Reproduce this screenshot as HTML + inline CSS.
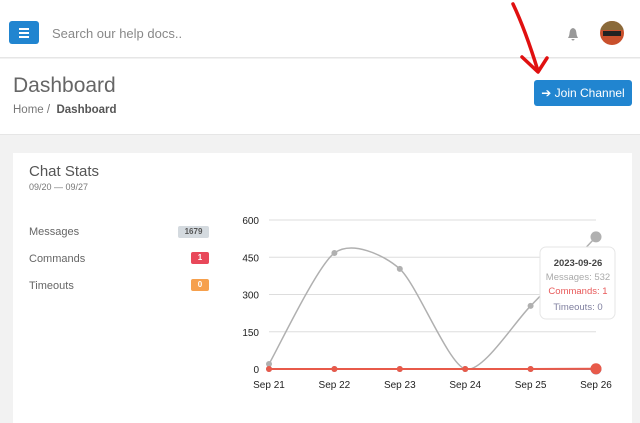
<!DOCTYPE html>
<html><head><meta charset="utf-8"><style>
*{box-sizing:border-box;margin:0;padding:0}
body{width:640px;height:413px;overflow:hidden;background:#f2f2f2;font-family:"Liberation Sans",sans-serif;position:relative}
.top{position:absolute;left:0;top:0;width:640px;height:58px;background:#fff;border-bottom:1px solid #e6e6e6}
.menu{position:absolute;left:9px;top:21px;width:30px;height:23px;background:#2185d0;border-radius:3px}
.menu i{position:absolute;left:10px;width:10px;height:2px;background:#fff}
.search{position:absolute;left:52px;top:26px;font-size:13px;color:#888}
.hdr{position:absolute;left:0;top:59px;width:640px;height:76px;background:#fff;border-bottom:1px solid #e6e6e6}
.title{position:absolute;left:13px;top:74px;font-size:21px;color:#666;font-weight:300}
.crumb{position:absolute;left:13px;top:104px;font-size:11.5px;color:#777}
.crumb b{color:#555}
.join{position:absolute;left:534px;top:80px;width:98px;height:26px;background:#2185d0;border-radius:3px;color:#fff;font-size:12px;line-height:26px;text-align:center}
.card{position:absolute;left:13px;top:153px;width:619px;height:270px;background:#fff}
.ct{position:absolute;left:29px;top:163px;font-size:15px;color:#555}
.cd{position:absolute;left:29px;top:182px;font-size:9px;color:#777}
.row{position:absolute;left:29px;font-size:11px;color:#666}
.badge{position:absolute;height:12px;font-size:8px;line-height:12px;text-align:center;border-radius:2px;font-weight:bold}
</style></head><body>
<div class="top"></div>
<div class="menu"><i style="top:7px"></i><i style="top:11px"></i><i style="top:15px"></i></div>
<div class="search">Search our help docs..</div>
<svg style="position:absolute;left:567px;top:27px" width="12" height="14"><path d="M6 1 C2 2 3 6 2 9 L1 11 H11 L10 9 C9 6 10 2 6 1Z M4.5 12 H7.5 A1.5 1.5 0 0 1 4.5 12Z" fill="#999"/></svg>
<div style="position:absolute;left:600px;top:21px;width:24px;height:24px;border-radius:50%;background:#c9502c;overflow:hidden"><div style="position:absolute;left:0;top:0;width:24px;height:9px;background:#8a6a3a"></div><div style="position:absolute;left:3px;top:10px;width:18px;height:5px;background:#222"></div></div>
<div class="hdr"></div>
<div class="title">Dashboard</div>
<div class="crumb">Home / &nbsp;<b>Dashboard</b></div>
<div class="join">➔ Join Channel</div>
<svg style="position:absolute;left:505px;top:0" width="50" height="80"><path d="M8 4 C18 25 25 45 33 71 M17 57 L33 72 L42 58" stroke="#e01010" stroke-width="3.5" fill="none" stroke-linecap="round" stroke-linejoin="round"/></svg>
<div class="card"></div>
<div class="ct">Chat Stats</div>
<div class="cd">09/20 — 09/27</div>
<div class="row" style="top:226px">Messages</div>
<div class="badge" style="left:178px;top:226px;width:31px;background:#d4dadf;color:#555">1679</div>
<div class="row" style="top:253px">Commands</div>
<div class="badge" style="left:191px;top:252px;width:18px;background:#e8485a;color:#fff">1</div>
<div class="row" style="top:280px">Timeouts</div>
<div class="badge" style="left:191px;top:279px;width:18px;background:#f6a04d;color:#fff">0</div>
<svg id="chart" style="position:absolute;left:0;top:0" width="640" height="413"></svg>
<script>
const categories=["Sep 21","Sep 22","Sep 23","Sep 24","Sep 25","Sep 26"];
const messages=[20,467,403,0,254,532];
const commands=[0,0,0,0,0,1];
const timeouts=[0,0,0,0,0,0];
const yTicks=[0,150,300,450,600];
const svg=document.getElementById('chart');
const NS='http://www.w3.org/2000/svg';
const x=i=>269+i*(596-269)/(categories.length-1);
const y=v=>369-v*(369-220)/600;
function mk(t,a){const e=document.createElementNS(NS,t);for(const k in a)e.setAttribute(k,a[k]);svg.appendChild(e);return e;}
yTicks.forEach(v=>{
 const l=mk('line',{x1:269,x2:596,y1:y(v),y2:y(v),stroke:'#ddd','stroke-width':1});
 
 
 const t=mk('text',{x:259,y:y(v)+4,'text-anchor':'end','font-size':10,fill:'#222'});t.textContent=v;
 
 
});
categories.forEach((c,i)=>{
 const t=mk('text',{x:x(i),y:388,'text-anchor':'middle','font-size':10,fill:'#222'});t.textContent=c;
 
 
});
function path(vals){
 const k=0.13;
 const p=vals.map((v,i)=>[x(i),y(v)]);let d='M'+p[0];
 for(let i=0;i<p.length-1;i++){const p0=p[i-1]||p[i],p1=p[i],p2=p[i+1],p3=p[i+2]||p2;
  d+=' C'+(p1[0]+(p2[0]-p0[0])*k)+','+(p1[1]+(p2[1]-p0[1])*k)+' '+(p2[0]-(p3[0]-p1[0])*k)+','+(p2[1]-(p3[1]-p1[1])*k)+' '+p2;}
 return d;}
function series(vals,color,name){
 const pa=mk('path',{d:path(vals),fill:'none',stroke:color,'stroke-width':name==='messages'?1.5:2});
 
 
 vals.forEach((v,i)=>{const c=mk('circle',{cx:x(i),cy:y(v),r:i===vals.length-1?5.5:3,fill:color});
  
  });
}
series(timeouts,'#8e8eb0','timeouts');
series(messages,'#b0b0b0','messages');
series(commands,'#e85a4a','commands');
const g=mk('rect',{x:540,y:247,width:75,height:72,rx:6,fill:'#fff',stroke:'#e6e6e6'});


[['2023-09-26','#444',266,'bold'],['Messages: '+messages[5],'#aaa',280,'normal'],['Commands: '+commands[5],'#e85a5a',294,'normal'],['Timeouts: '+timeouts[5],'#8080a0',310,'normal']].forEach(r=>{
 const t=mk('text',{x:578,y:r[2],'text-anchor':'middle','font-size':9.5,fill:r[1],'font-weight':r[3]});t.textContent=r[0];
 
 
});
</script>
</body></html>
